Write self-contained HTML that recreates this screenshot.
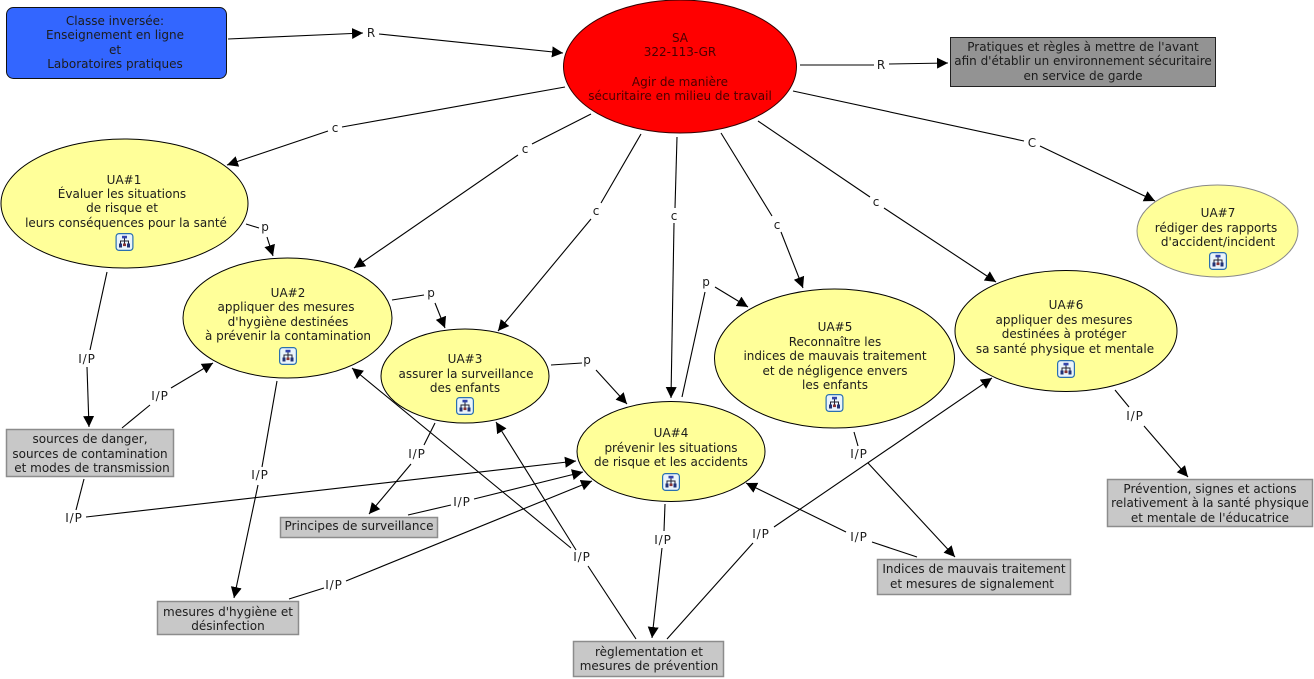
<!DOCTYPE html>
<html lang="fr">
<head>
<meta charset="utf-8">
<title>SA 322-113-GR</title>
<style>
html,body{margin:0;padding:0;background:#fff;width:1314px;height:679px;overflow:hidden}
svg{display:block}
text{font-family:"DejaVu Sans","Liberation Sans",sans-serif;font-size:12px;fill:#1c1c1c;text-anchor:middle}
.ip{letter-spacing:.9px}
.l line{stroke:#000;stroke-width:1.1}
.a line{stroke:#000;stroke-width:1.1;marker-end:url(#ah)}
.e{fill:#ffff99;stroke:#000;stroke-width:1}
.b{fill:#c8c8c8;stroke:#8c8c8c;stroke-width:1.5}
</style>
</head>
<body>
<svg width="1314" height="679" viewBox="0 0 1314 679" xmlns="http://www.w3.org/2000/svg">
<defs>
<marker id="ah" markerUnits="userSpaceOnUse" markerWidth="14" markerHeight="12" refX="11" refY="6" orient="auto">
<path d="M0 .5L11 6L0 11.5z" fill="#000"/>
</marker>
<symbol id="ic" viewBox="0 0 18 18" width="18" height="18">
<rect x=".6" y=".6" width="16.8" height="16.8" rx="3" fill="#eaf4fb" stroke="#2a6fb0" stroke-width="1.2"/>
<path d="M9 5V8M5 11V8H13V11M9 8V11" stroke="#223" stroke-width="1" fill="none"/>
<rect x="6.5" y="2.8" width="5" height="2.6" fill="#3344aa"/>
<rect x="3.5" y="10.5" width="3" height="4" fill="#223377"/>
<rect x="7.5" y="10.5" width="3" height="2.6" fill="#883333"/>
<rect x="11.5" y="10.5" width="3" height="4" fill="#223377"/>
</symbol>
</defs>

<!-- nodes -->
<rect x="6.5" y="7.5" width="220" height="71" rx="7" fill="#3366ff" stroke="#111" stroke-width="1"/>
<text x="115" y="25">Classe inversée:</text>
<text x="115" y="39">Enseignement en ligne</text>
<text x="115" y="54">et</text>
<text x="115" y="68">Laboratoires pratiques</text>

<ellipse cx="680" cy="66.5" rx="116.5" ry="66.5" fill="#ff0000" stroke="#330000" stroke-width="1"/>
<text x="680" y="42" style="fill:#4a0000">SA</text>
<text x="680" y="56" style="fill:#4a0000">322-113-GR</text>
<text x="680" y="86" style="fill:#4a0000">Agir de manière</text>
<text x="680" y="100" style="fill:#4a0000">sécuritaire en milieu de travail</text>

<rect x="950.5" y="37.5" width="265" height="49" fill="#939393" stroke="#222" stroke-width="1"/>
<text x="1083" y="51">Pratiques et règles à mettre de l'avant</text>
<text x="1083" y="65">afin d'établir un environnement sécuritaire</text>
<text x="1083" y="80">en service de garde</text>

<ellipse class="e" cx="124.5" cy="203.5" rx="123.5" ry="64.5"/>
<text x="124" y="184">UA#1</text>
<text x="122" y="198">Évaluer les situations</text>
<text x="122" y="212">de risque et</text>
<text x="126" y="227">leurs conséquences pour la santé</text>
<use href="#ic" x="115.5" y="233"/>

<ellipse class="e" cx="287.5" cy="318" rx="104.5" ry="60"/>
<text x="288" y="297">UA#2</text>
<text x="286" y="311">appliquer des mesures</text>
<text x="288" y="326">d'hygiène destinées</text>
<text x="288" y="340">à prévenir la contamination</text>
<use href="#ic" x="279" y="347"/>

<ellipse class="e" cx="465" cy="376" rx="84" ry="47"/>
<text x="465" y="363">UA#3</text>
<text x="466" y="378">assurer la surveillance</text>
<text x="465" y="392">des enfants</text>
<use href="#ic" x="456" y="397"/>

<ellipse class="e" cx="671" cy="451.5" rx="94" ry="50"/>
<text x="671" y="437">UA#4</text>
<text x="671" y="452">prévenir les situations</text>
<text x="671" y="466">de risque et les accidents</text>
<use href="#ic" x="662" y="473"/>

<ellipse class="e" cx="834.5" cy="358.5" rx="120" ry="69.5"/>
<text x="835" y="331">UA#5</text>
<text x="835" y="346">Reconnaître les</text>
<text x="835" y="360">indices de mauvais traitement</text>
<text x="835" y="375">et de négligence envers</text>
<text x="835" y="389">les enfants</text>
<use href="#ic" x="825.5" y="394"/>

<ellipse class="e" cx="1066" cy="331" rx="111" ry="60.5"/>
<text x="1066" y="309">UA#6</text>
<text x="1064" y="324">appliquer des mesures</text>
<text x="1064" y="338">destinées à protéger</text>
<text x="1065" y="353">sa santé physique et mentale</text>
<use href="#ic" x="1057" y="360"/>

<ellipse cx="1217.5" cy="231" rx="80.5" ry="46" fill="#ffff99" stroke="#888" stroke-width="1"/>
<text x="1218" y="217">UA#7</text>
<text x="1216" y="232">rédiger des rapports</text>
<text x="1218" y="246">d'accident/incident</text>
<use href="#ic" x="1209" y="252"/>

<rect class="b" x="6.5" y="429.5" width="167" height="47"/>
<text x="90" y="443">sources de danger,</text>
<text x="90" y="458">sources de contamination</text>
<text x="92" y="472">et modes de transmission</text>

<rect class="b" x="280.5" y="517.5" width="157" height="20"/>
<text x="359" y="530">Principes de surveillance</text>

<rect class="b" x="157.5" y="601.5" width="141" height="33"/>
<text x="228" y="616">mesures d'hygiène et</text>
<text x="228" y="630">désinfection</text>

<rect class="b" x="573.5" y="641.5" width="150" height="35"/>
<text x="649" y="656">règlementation et</text>
<text x="649" y="670">mesures de prévention</text>

<rect class="b" x="877.5" y="559.5" width="193" height="35"/>
<text x="974" y="573">Indices de mauvais traitement</text>
<text x="972" y="588">et mesures de signalement</text>

<rect class="b" x="1107.5" y="479.5" width="205" height="47"/>
<text x="1210" y="493">Prévention, signes et actions</text>
<text x="1210" y="507">relativement à la santé physique</text>
<text x="1210" y="522">et mentale de l'éducatrice</text>

<!-- connector plain segments -->
<g class="l">
<line x1="800" y1="65" x2="874" y2="65"/>
<line x1="565" y1="87" x2="342" y2="127"/>
<line x1="591" y1="114" x2="532" y2="144"/>
<line x1="641" y1="134" x2="601" y2="203"/>
<line x1="677" y1="137" x2="675" y2="208"/>
<line x1="721" y1="133" x2="772" y2="216"/>
<line x1="758" y1="121" x2="870" y2="197"/>
<line x1="793" y1="91" x2="1024" y2="141"/>
<line x1="246" y1="224" x2="259" y2="228"/>
<line x1="392" y1="300" x2="424" y2="295"/>
<line x1="551" y1="365" x2="582" y2="363"/>
<line x1="682" y1="397" x2="705" y2="292"/>
<line x1="107" y1="272" x2="90" y2="350"/>
<line x1="122" y1="428" x2="150" y2="405"/>
<line x1="84" y1="479" x2="76" y2="510"/>
<line x1="277" y1="381" x2="262" y2="467"/>
<line x1="289" y1="599" x2="324" y2="588"/>
<line x1="435" y1="423" x2="424" y2="445"/>
<line x1="408" y1="515" x2="451" y2="505"/>
<line x1="636" y1="639" x2="588" y2="566"/>
<line x1="665" y1="504" x2="664" y2="531"/>
<line x1="667" y1="639" x2="753" y2="543"/>
<line x1="854" y1="432" x2="858" y2="446"/>
<line x1="917" y1="557" x2="872" y2="542"/>
<line x1="1115" y1="390" x2="1129" y2="407"/>
</g>

<!-- connector segments with arrowheads -->
<g class="a">
<line x1="379" y1="34" x2="563" y2="53"/>
<line x1="228" y1="39" x2="363" y2="33"/>
<line x1="889" y1="64" x2="948" y2="63"/>
<line x1="328" y1="131" x2="227" y2="165"/>
<line x1="518" y1="155" x2="354" y2="268"/>
<line x1="591" y1="219" x2="498" y2="331"/>
<line x1="674" y1="223" x2="671" y2="398"/>
<line x1="781" y1="232" x2="803" y2="288"/>
<line x1="884" y1="208" x2="996" y2="282"/>
<line x1="1040" y1="146" x2="1155" y2="201"/>
<line x1="267" y1="237" x2="273" y2="256"/>
<line x1="435" y1="303" x2="445" y2="328"/>
<line x1="596" y1="370" x2="627" y2="404"/>
<line x1="715" y1="287" x2="748" y2="307"/>
<line x1="87" y1="367" x2="89" y2="427"/>
<line x1="171" y1="388" x2="213" y2="363"/>
<line x1="86" y1="517" x2="576" y2="461"/>
<line x1="258" y1="485" x2="234" y2="598"/>
<line x1="346" y1="581" x2="592" y2="481"/>
<line x1="411" y1="464" x2="369" y2="514"/>
<line x1="474" y1="499" x2="583" y2="472"/>
<line x1="571" y1="548" x2="352" y2="368"/>
<line x1="576" y1="550" x2="496" y2="422"/>
<line x1="662" y1="548" x2="652" y2="638"/>
<line x1="774" y1="527" x2="992" y2="378"/>
<line x1="868" y1="463" x2="955" y2="557"/>
<line x1="846" y1="532" x2="746" y2="483"/>
<line x1="1144" y1="426" x2="1188" y2="477"/>
</g>

<!-- connector labels -->
<text x="371" y="37">R</text>
<text x="881" y="69">R</text>
<text x="335" y="132">c</text>
<text x="525" y="153">c</text>
<text x="596" y="215">c</text>
<text x="674" y="220">c</text>
<text x="777" y="229">c</text>
<text x="876" y="206">c</text>
<text x="1032" y="147">C</text>
<text x="265" y="231">p</text>
<text x="431" y="297">p</text>
<text x="587" y="364">p</text>
<text x="706" y="286">p</text>
<text class="ip" x="87" y="363">I/P</text>
<text class="ip" x="160" y="400">I/P</text>
<text class="ip" x="74" y="522">I/P</text>
<text class="ip" x="260" y="479">I/P</text>
<text class="ip" x="334" y="589">I/P</text>
<text class="ip" x="417" y="458">I/P</text>
<text class="ip" x="462" y="506">I/P</text>
<text class="ip" x="582" y="561">I/P</text>
<text class="ip" x="663" y="544">I/P</text>
<text class="ip" x="761" y="538">I/P</text>
<text class="ip" x="859" y="458">I/P</text>
<text class="ip" x="859" y="541">I/P</text>
<text class="ip" x="1135" y="420">I/P</text>
</svg>
</body>
</html>
